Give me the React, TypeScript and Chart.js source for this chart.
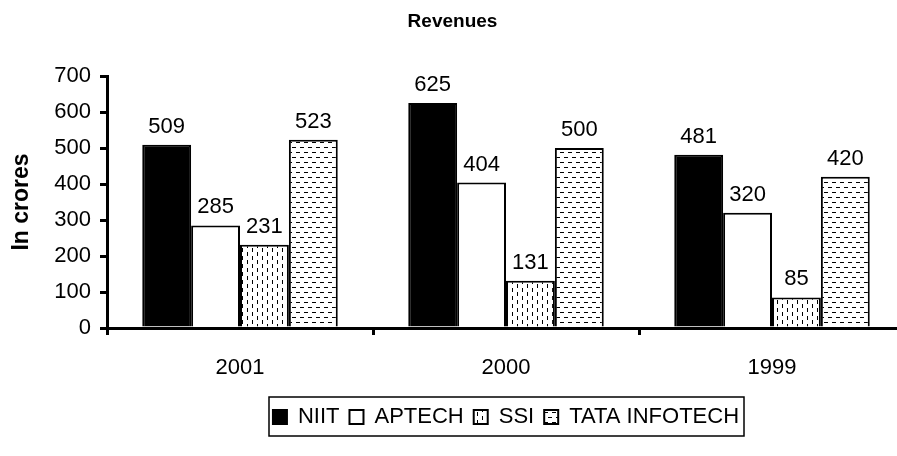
import React, { useEffect, useRef } from 'react';
import { Chart, registerables } from 'chart.js';

Chart.register(...registerables);

// ---- data ----
const categories = ['2001', '2000', '1999'];
const seriesNames = ['NIIT', 'APTECH', 'SSI', 'TATA INFOTECH'];
const niitValues = [509, 625, 481];
const aptechValues = [285, 404, 320];
const ssiValues = [231, 131, 85];
const tataValues = [523, 500, 420];
const yMin = 0;
const yMax = 700;
const yStep = 100;
const chartTitle = 'Revenues';
const yAxisTitle = 'In crores';

// ---- styling constants ----
const FONT = "'Liberation Sans', Arial, sans-serif";
const W = 916;
const H = 456;
const TXT = 22;
const LEG_FONT = 22;
const LEG_PAD = 10;
const PAD_BOTTOM = 18;
const AREA_BOTTOM = 328;

function makeVerticalDashPattern(): CanvasPattern | string {
  const c = document.createElement('canvas');
  c.width = 10;
  c.height = 8;
  const g = c.getContext('2d');
  if (!g) return '#fff';
  g.fillStyle = '#fff';
  g.fillRect(0, 0, 10, 8);
  g.fillStyle = '#000';
  g.fillRect(2, 0, 1, 4);
  g.fillRect(7, 4, 1, 4);
  return g.createPattern(c, 'repeat') || '#fff';
}

function makeHorizontalDashPattern(): CanvasPattern | string {
  const c = document.createElement('canvas');
  c.width = 8;
  c.height = 10;
  const g = c.getContext('2d');
  if (!g) return '#fff';
  g.fillStyle = '#fff';
  g.fillRect(0, 0, 8, 10);
  g.fillStyle = '#000';
  g.fillRect(0, 2, 4, 1);
  g.fillRect(4, 7, 4, 1);
  return g.createPattern(c, 'repeat') || '#fff';
}

const valueLabels = {
  id: 'valueLabels',
  afterDatasetsDraw(chart: any) {
    const ctx = chart.ctx;
    ctx.save();
    ctx.font = `${TXT}px ${FONT}`;
    ctx.fillStyle = '#000';
    ctx.textAlign = 'center';
    ctx.textBaseline = 'alphabetic';
    chart.data.datasets.forEach((ds: any, i: number) => {
      const meta = chart.getDatasetMeta(i);
      meta.data.forEach((bar: any, j: number) => {
        ctx.fillText(String(ds.data[j]), bar.x, bar.y - 12);
      });
    });
    ctx.restore();
  },
};

const legendBorder = {
  id: 'legendBorder',
  afterDraw(chart: any) {
    const lg = chart.legend;
    if (!lg || !lg.legendHitBoxes || !lg.legendHitBoxes.length) return;
    const boxes = lg.legendHitBoxes;
    let l = Infinity, r = -Infinity, t = Infinity, b = -Infinity;
    boxes.forEach((hb: any) => {
      l = Math.min(l, hb.left);
      r = Math.max(r, hb.left + hb.width);
      t = Math.min(t, hb.top);
      b = Math.max(b, hb.top + hb.height);
    });
    const ctx = chart.ctx;
    ctx.save();
    ctx.strokeStyle = '#000';
    ctx.lineWidth = 1.5;
    const x0 = Math.round(l - 4);
    const y0 = Math.round(t - 9);
    ctx.strokeRect(x0, y0, Math.round(r + 5) - x0, Math.round(b + 8) - y0);
    ctx.restore();
  },
};

export default function App() {
  const ref = useRef<HTMLCanvasElement | null>(null);

  useEffect(() => {
    document.body.style.overflow = 'hidden';
    document.documentElement.style.overflow = 'hidden';
    const canvas = ref.current;
    if (!canvas) return;
    const ssiPattern = makeVerticalDashPattern();
    const tataPattern = makeHorizontalDashPattern();
    const fills = ['#000000', '#ffffff', ssiPattern, tataPattern];
    const seriesValues = [niitValues, aptechValues, ssiValues, tataValues];
    const legendHeight = LEG_PAD + LEG_FONT + 10;

    const chart = new Chart(canvas, {
      type: 'bar',
      data: {
        labels: categories,
        datasets: seriesNames.map((name, i) => ({
          label: name,
          data: seriesValues[i],
          backgroundColor: fills[i] as any,
          borderColor: '#000',
          borderWidth: 2,
          categoryPercentage: 0.735,
          barPercentage: 1,
        })),
      },
      options: {
        responsive: false,
        devicePixelRatio: 1,
        animation: false,
        layout: { padding: { left: 0, right: 11, top: 0, bottom: PAD_BOTTOM } },
        plugins: {
          title: {
            display: true,
            text: chartTitle,
            color: '#000',
            font: { family: FONT, size: 19, weight: 'bold' },
            padding: { top: 10.6, bottom: 42.6 },
          },
          legend: {
            display: true,
            position: 'bottom',
            fullSize: false,
            labels: {
              color: '#000',
              font: { family: FONT, size: LEG_FONT },
              boxWidth: 14,
              boxHeight: 14,
              padding: LEG_PAD,
            },
          },
          tooltip: { enabled: false },
        },
        scales: {
          x: {
            type: 'category',
            grid: {
              display: true,
              offset: true,
              drawOnChartArea: false,
              drawTicks: true,
              tickLength: 7,
              color: '#000',
              lineWidth: 3,
            },
            border: { display: true, color: '#000', width: 3 },
            ticks: { color: '#000', font: { family: FONT, size: TXT }, padding: 20, maxRotation: 0 },
            afterFit: (scale: any) => {
              scale.height = H - AREA_BOTTOM - legendHeight - PAD_BOTTOM;
            },
          },
          y: {
            min: yMin,
            max: yMax,
            grid: {
              display: true,
              drawOnChartArea: false,
              drawTicks: true,
              tickLength: 7,
              color: '#000',
              lineWidth: 3,
            },
            border: { display: true, color: '#000', width: 3 },
            ticks: { stepSize: yStep, color: '#000', font: { family: FONT, size: TXT }, padding: 9 },
            title: {
              display: true,
              text: yAxisTitle,
              color: '#000',
              font: { family: FONT, size: 23, weight: 'bold' },
              padding: { top: 8, bottom: 0 },
            },
            afterFit: (scale: any) => {
              scale.width = 107;
            },
          },
        },
      },
      plugins: [valueLabels, legendBorder],
    });
    return () => chart.destroy();
  }, []);

  return (
    <div style={{ position: 'fixed', left: 0, top: 0, width: W, height: H, background: '#fff' }}>
      <canvas ref={ref} width={W} height={H} style={{ width: W, height: H, display: 'block' }} />
    </div>
  );
}
